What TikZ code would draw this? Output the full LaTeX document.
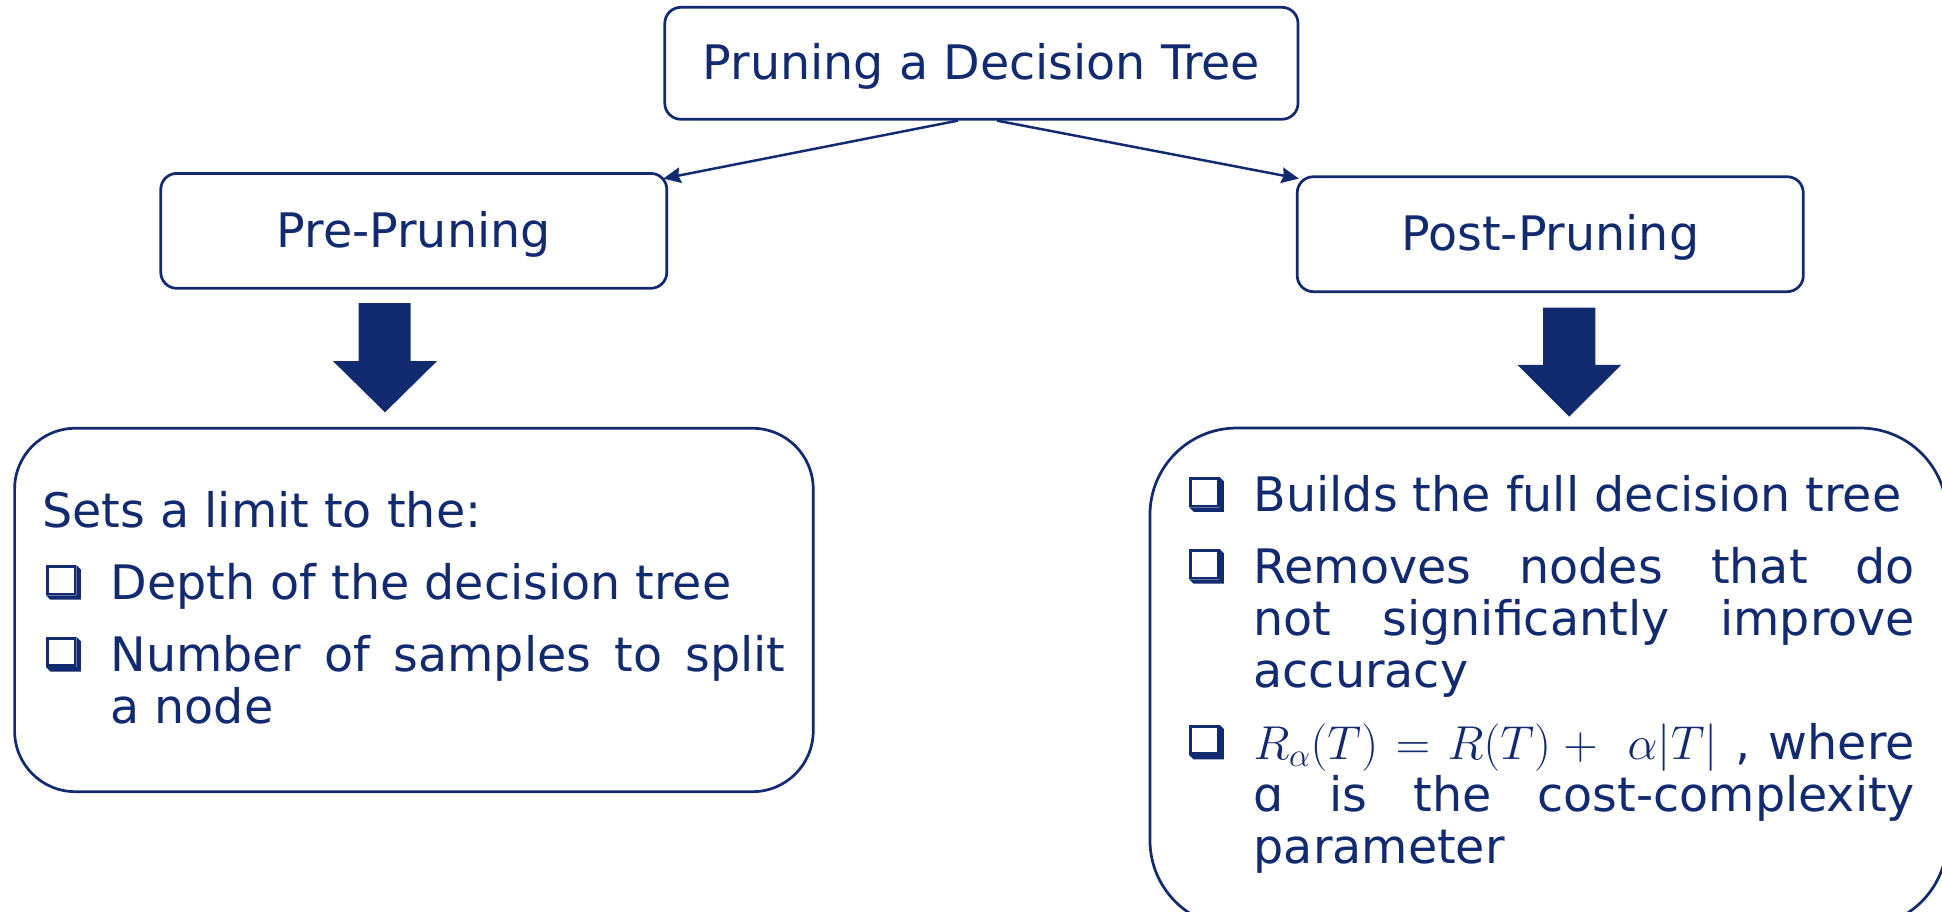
\RequirePackage{fix-cm}
\documentclass[tikz,border=0pt]{standalone}
\usepackage{fontspec}
\setmainfont{DejaVu Sans}
\usetikzlibrary{arrows.meta}

\definecolor{navy}{HTML}{122B70}

% line breaking inside the justified text blocks
\tolerance=10000
\hbadness=10000
\hyphenpenalty=10000
\exhyphenpenalty=10000

% shadowed square bullet
\newcommand\qbox{\tikz[baseline=0pt,x=1pt,y=1pt]{%
  \fill[navy] (0,3.5) -- (3.5,0) -- (28,0) -- (28,24.5) -- (24.5,28) -- (24.5,3.5) -- cycle;
  \draw[navy,line width=2.2pt] (1.1,4.6) rectangle (23.4,26.9);}}
% list item with hanging indent
\newcommand\qitem{\hangindent=55pt\hangafter=1\noindent\makebox[55pt][l]{\hspace{3pt}\qbox}\ignorespaces}
\newcommand\pgap{\par\vspace{16pt}}
\newcommand\firstline{\rule{0pt}{35pt}}

\tikzset{
  bodyfont/.style={font=\fontsize{38.4}{42}\selectfont},
  headbox/.style={draw=navy, line width=2.2pt, rounded corners=13pt, text=navy,
    bodyfont, inner sep=0pt, text height=34.8pt, text depth=8pt},
  bigbox/.style={draw=navy, line width=2.2pt, inner sep=0pt},
  bodytext/.style={text=navy, bodyfont, inner sep=0pt, align=justify, anchor=north west},
  link/.style={draw=navy, line width=2pt, -{Stealth[length=14pt,width=12.5pt,inset=1.5pt]}},
  blockarrow/.style={fill=navy},
}

\begin{document}
\begin{tikzpicture}[x=1pt,y=-1pt]
  \useasboundingbox (0,0) rectangle (1568,736);
  \fill[white] (0,0) rectangle (1568,736);

  % heading boxes
  \node[headbox, minimum width=511.3pt, minimum height=90.4pt] (top) at (792.4,51.1) {Pruning a Decision Tree};
  \node[headbox, minimum width=408.6pt, minimum height=92.8pt] (pre) at (334.1,186.4) {Pre-Pruning};
  \node[headbox, minimum width=408.6pt, minimum height=92.8pt] (post) at (1251.7,189.1) {Post-Pruning};

  % connectors
  \draw[link] ([shift={(-19,0)}]top.south) -- ([shift={(-4,5.3)}]pre.north east);
  \draw[link] ([shift={(12.6,0)}]top.south) -- ([shift={(2.5,2.6)}]post.north west);

  % block arrows
  \fill[blockarrow] (289.5,244.8) -- (331.6,244.8) -- (331.6,291.5) -- (352.9,291.5)
    -- (310.9,332.9) -- (268.8,291.5) -- (289.5,291.5) -- cycle;
  \fill[blockarrow] (1245.9,248.4) -- (1288.2,248.4) -- (1288.2,294.7) -- (1308.9,294.7)
    -- (1267.0,336.4) -- (1225.3,294.7) -- (1245.9,294.7) -- cycle;

  % detail boxes
  \node[bigbox, rounded corners=49pt, minimum width=644.8pt, minimum height=293.4pt] (prebox) at (334.2,492.5) {};
  \begin{scope}
    \clip (0,0) rectangle (1568,736);
    \node[bigbox, rounded corners=70pt, minimum width=643.5pt, minimum height=402.9pt] (postbox) at (1250.25,547.05) {};
  \end{scope}

  % detail texts
  \node[bodytext, text width=600pt] (pretext) at (34,391) {%
    \noindent\firstline Sets a limit to the:\pgap
    \qitem Depth of the decision tree\pgap
    \qitem Number of samples to split\linebreak a node\par};

  \node[bodytext, text width=589pt] (posttext) at (957,378) {%
    \qitem\firstline Builds the full decision tree\pgap
    \qitem Removes nodes that do\linebreak not significantly improve\linebreak accuracy\pgap
    \qitem $R_\alpha(T) = R(T) +\;\alpha|T|$ , where\linebreak ɑ is the cost-complexity\linebreak parameter\par};
\end{tikzpicture}
\end{document}
